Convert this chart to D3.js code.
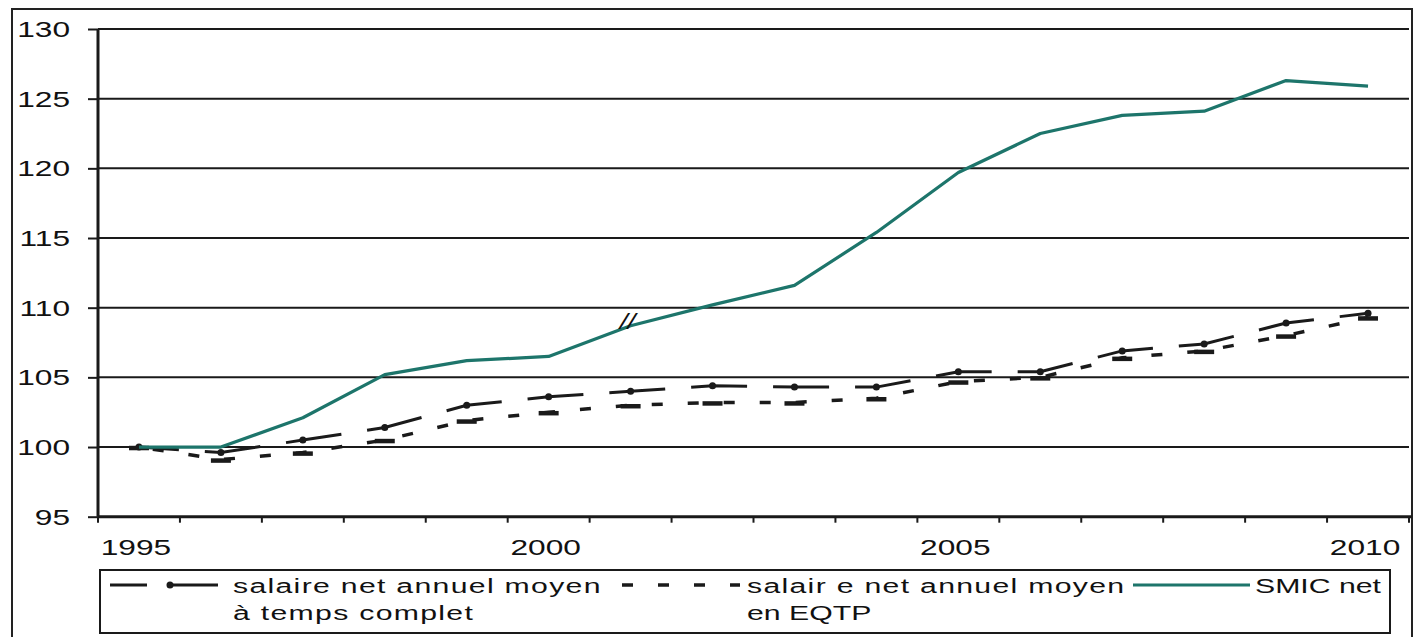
<!DOCTYPE html>
<html>
<head>
<meta charset="utf-8">
<script src="https://cdn.jsdelivr.net/npm/d3@7/dist/d3.min.js"></script>
<style>
  html, body { margin: 0; padding: 0; background: #fff; }
  svg { display: block; }
  text { font-family: "Liberation Sans", Arial, sans-serif; fill: #111; }
</style>
</head>
<body>
<svg id="chart" width="1416" height="637"></svg>
<script>
// Years on the category axis
const years = [1995, 1996, 1997, 1998, 1999, 2000, 2001, 2002, 2003, 2004, 2005, 2006, 2007, 2008, 2009, 2010];
const yearLabels = [1995, 2000, 2005, 2010];

// Index base 100 in 1995
const salaireTempsComplet = [100.0, 99.6, 100.5, 101.4, 103.0, 103.6, 104.0, 104.4, 104.3, 104.3, 105.4, 105.4, 106.9, 107.4, 108.9, 109.6];
const salaireEQTP         = [100.0, 99.1, 99.6, 100.5, 101.9, 102.5, 103.0, 103.2, 103.2, 103.5, 104.7, 105.0, 106.4, 106.9, 108.0, 109.3];
const smicNet             = [100.0, 100.0, 102.1, 105.2, 106.2, 106.5, 108.7, 110.2, 111.6, 115.4, 119.7, 122.5, 123.8, 124.1, 126.3, 125.9];

const yTicks = [95, 100, 105, 110, 115, 120, 125, 130];
const breakYear = 2001; // series break marker "//"

const legendItems = [
  { lines: ["salaire net annuel moyen", "à temps complet"], kind: "complet" },
  { lines: ["salair e net annuel moyen", "en EQTP"], kind: "eqtp" },
  { lines: ["SMIC net"], kind: "smic" }
];

const TEAL = "#1d756b";
const INK = "#1a1a1a";
const SX = 1.44; // horizontal stretch of the lettering

const svg = d3.select("#chart");
const plot = { left: 98, right: 1409, top: 29, bottom: 516.7 };

const x = d3.scaleBand().domain(years).range([plot.left, plot.right]).paddingInner(0).paddingOuter(0);
const cx = yr => x(yr) + x.bandwidth() / 2;
const y = d3.scaleLinear().domain([95, 130]).range([plot.bottom, plot.top]);

function stretchedText(g, str, px, py, anchor, size, spacing) {
  return g.append("text")
    .attr("transform", `translate(${px},${py}) scale(${SX},1)`)
    .attr("text-anchor", anchor)
    .attr("font-size", size)
    .attr("letter-spacing", spacing || 0)
    .text(str);
}

// Outer frame
svg.append("rect")
  .attr("x", 12).attr("y", 9).attr("width", 1400).attr("height", 640)
  .attr("fill", "none").attr("stroke", "#222").attr("stroke-width", 2);

// Horizontal gridlines
svg.append("g")
  .selectAll("line")
  .data(yTicks.filter(v => v > 95))
  .join("line")
  .attr("x1", plot.left).attr("x2", plot.right)
  .attr("y1", d => y(d)).attr("y2", d => y(d))
  .attr("stroke", INK).attr("stroke-width", 2);

// Y axis
const yAxis = svg.append("g")
  .attr("transform", `translate(${plot.left},0)`)
  .call(d3.axisLeft(y).tickValues(yTicks).tickSize(10).tickFormat(""));
yAxis.select(".domain").attr("stroke", INK).attr("stroke-width", 3).attr("d", `M0,${plot.top}V${plot.bottom}`);
yAxis.selectAll(".tick line").attr("stroke", INK).attr("stroke-width", 2);
const yLab = svg.append("g");
yTicks.forEach(v => stretchedText(yLab, String(v), 70, y(v) + 8, "end", 22));

// X axis line and ticks at category boundaries
const xAxisG = svg.append("g");
xAxisG.append("line")
  .attr("x1", plot.left).attr("x2", plot.right + 3)
  .attr("y1", plot.bottom).attr("y2", plot.bottom)
  .attr("stroke", INK).attr("stroke-width", 3);
const bounds = years.map(yr => x(yr)).concat([x(years[years.length - 1]) + x.bandwidth()]);
xAxisG.selectAll("line.tk")
  .data(bounds)
  .join("line")
  .attr("class", "tk")
  .attr("x1", d => d).attr("x2", d => d)
  .attr("y1", plot.bottom).attr("y2", plot.bottom + 6)
  .attr("stroke", INK).attr("stroke-width", 2);
yearLabels.forEach(yr => stretchedText(xAxisG, String(yr), cx(yr) - 3, 555, "middle", 22));

const line = d3.line().x((d, i) => cx(years[i])).y(d => y(d));

// Full-time net salary: long dashes with round markers
svg.append("path")
  .datum(salaireTempsComplet)
  .attr("d", line)
  .attr("fill", "none").attr("stroke", INK).attr("stroke-width", 3)
  .attr("stroke-dasharray", "56,26").attr("stroke-dashoffset", 16);
svg.append("g").selectAll("circle")
  .data(salaireTempsComplet)
  .join("circle")
  .attr("cx", (d, i) => cx(years[i])).attr("cy", d => y(d))
  .attr("r", 3.5).attr("fill", INK);

// Full-time equivalent net salary: short dashes with dash markers
svg.append("path")
  .datum(salaireEQTP)
  .attr("d", line)
  .attr("fill", "none").attr("stroke", INK).attr("stroke-width", 3.5)
  .attr("stroke-dasharray", "11,25").attr("stroke-dashoffset", -14);
svg.append("g").selectAll("line")
  .data(salaireEQTP)
  .join("line")
  .attr("x1", (d, i) => cx(years[i]) - 10).attr("x2", (d, i) => cx(years[i]) + 10)
  .attr("y1", d => y(d) + 1).attr("y2", d => y(d) + 1)
  .attr("stroke", INK).attr("stroke-width", 4.5);

// Net minimum wage
svg.append("path")
  .datum(smicNet)
  .attr("d", line)
  .attr("fill", "none").attr("stroke", TEAL).attr("stroke-width", 3.2)
  .attr("stroke-linejoin", "round");

// Series break marker
const bi = years.indexOf(breakYear);
svg.append("text")
  .attr("transform", `translate(${cx(breakYear) - 3},${y(smicNet[bi]) + 3}) scale(1.3,1)`)
  .attr("text-anchor", "middle")
  .attr("font-size", 22)
  .attr("font-style", "italic")
  .text("//");

// Legend
const lg = svg.append("g");
lg.append("rect")
  .attr("x", 100).attr("y", 570).attr("width", 1290).attr("height", 63)
  .attr("fill", "none").attr("stroke", INK).attr("stroke-width", 2);

const ly = 585;
// full-time sample
lg.append("line").attr("x1", 110).attr("x2", 147).attr("y1", ly).attr("y2", ly)
  .attr("stroke", INK).attr("stroke-width", 3);
lg.append("line").attr("x1", 172).attr("x2", 218).attr("y1", ly).attr("y2", ly)
  .attr("stroke", INK).attr("stroke-width", 3);
lg.append("circle").attr("cx", 170).attr("cy", ly).attr("r", 3.5).attr("fill", INK);
// EQTP sample
lg.append("line").attr("x1", 622).attr("x2", 740).attr("y1", ly).attr("y2", ly)
  .attr("stroke", INK).attr("stroke-width", 3.5).attr("stroke-dasharray", "11,25");
// SMIC sample
lg.append("line").attr("x1", 1133).attr("x2", 1250).attr("y1", ly).attr("y2", ly)
  .attr("stroke", TEAL).attr("stroke-width", 3.2);

const textX = [233, 747, 1255];
legendItems.forEach((item, k) => {
  item.lines.forEach((s, j) =>
    stretchedText(lg, s, textX[k], 593 + j * 27, "start", 21, s.length > 12 ? 0.9 : 0));
});
</script>
</body>
</html>
